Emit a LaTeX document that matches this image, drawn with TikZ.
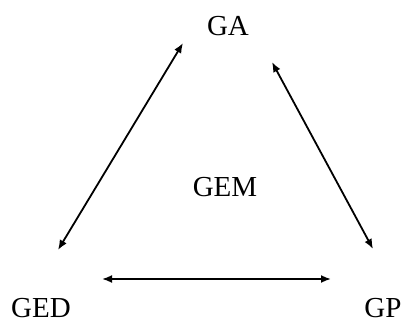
\documentclass[tikz,border=0pt]{standalone}
\usepackage{fontspec}
\setmainfont{Liberation Serif}
\usetikzlibrary{arrows.meta}
\begin{document}
\begin{tikzpicture}[x=1pt,y=1pt,
  lbl/.style={anchor=base,inner sep=0pt,font=\fontsize{29}{33}\selectfont},
  link/.style={line width=1.8pt,{Latex[length=10pt,width=8pt]}-{Latex[length=10pt,width=8pt]}}]
\useasboundingbox (0,0) rectangle (405,322);
\node[lbl] (ga) at (228,286) {GA};
\node[lbl] (ged) at (41,5) {GED};
\node[lbl] (gp) at (383,5) {GP};
\node[lbl] (gem) at (225,125) {GEM};
\coordinate (a1) at (183,279);
\coordinate (a2) at (58,72);
\coordinate (b1) at (272,260);
\coordinate (b2) at (373,73);
\coordinate (c1) at (102,43);
\coordinate (c2) at (331,43);
\draw[link] (a1) -- (a2);
\draw[link] (b1) -- (b2);
\draw[link] (c1) -- (c2);
\end{tikzpicture}
\end{document}
